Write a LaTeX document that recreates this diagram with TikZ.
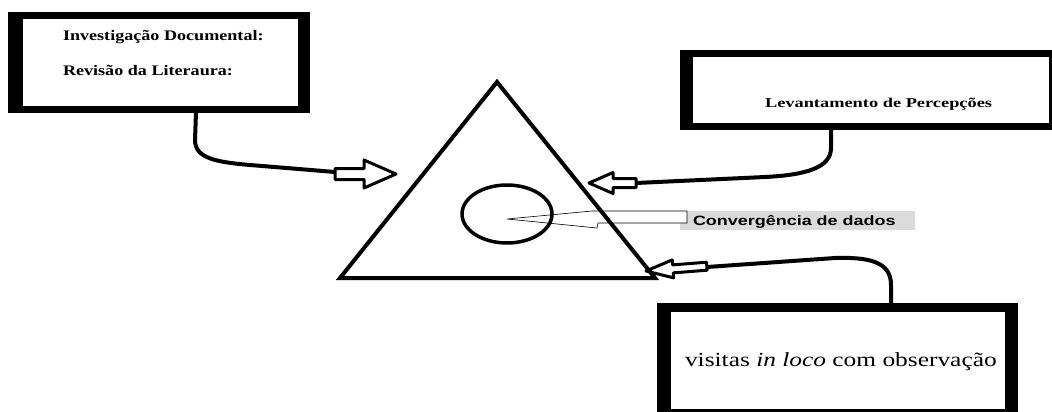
\documentclass[tikz,border=0pt]{standalone}
\usepackage{fontspec}
\setmainfont{Liberation Serif}
\setsansfont{Liberation Sans}
\usepackage{graphicx}
\begin{document}
\tikzset{
  boxouter/.style={fill=black, draw=none, inner sep=0pt, outer sep=0pt, anchor=north west},
  boxinner/.style={fill=white, draw=none, inner sep=0pt, outer sep=0pt, anchor=north west},
  conn/.style={line width=4pt, line cap=round, line join=round},
  barrow/.style={draw=black, fill=white, line width=3pt, line join=round},
  lbl/.style={inner sep=0pt, outer sep=0pt, anchor=base west},
}
\begin{tikzpicture}[x=1pt,y=-1pt]
\path[use as bounding box] (0,0) rectangle (1052,412);
\clip (0,0) rectangle (1052,412);
\fill[white] (0,0) rectangle (1052,412);

% boxes
\node[boxouter, minimum width=302pt, minimum height=101pt] (b1) at (8,12) {};
\node[boxinner, minimum width=275pt, minimum height=87pt] (b1i) at (23,19) {};
\node[boxouter, minimum width=390pt, minimum height=80pt] (b2) at (680,50) {};
\node[boxinner, minimum width=356pt, minimum height=66pt] (b2i) at (693,57) {};
\node[boxouter, minimum width=361pt, minimum height=127pt] (b3) at (657,303) {};
\node[boxinner, minimum width=334pt, minimum height=97pt] (b3i) at (671,312) {};

% connector end points
\coordinate (c1s) at (196,112);
\coordinate (a1tail) at (335,172);
\coordinate (c2s) at (831,129);
\coordinate (a2tail) at (636,183);
\coordinate (c3s) at (891,304);
\coordinate (a3tail) at (707,267);

% connectors
\draw[conn] (c1s) -- (195,140) .. controls (195,158) and (215,162) .. (250,165) -- (a1tail);
\draw[conn] (c2s) -- (831,148) .. controls (831,168) and (805,175) .. (765,177) -- (a2tail);
\draw[conn] (c3s) -- (891,285) .. controls (891,262) and (870,257) .. (835,258) -- (a3tail);

% block arrows
\draw[barrow] (396,174) -- (364,160) -- (364,168.5) -- (335,168.5) -- (335,179.5) -- (364,179.5) -- (364,188) -- cycle;
\draw[barrow] (589,183) -- (613,172.5) -- (613,178.5) -- (636,178.5) -- (636,187.5) -- (613,187.5) -- (613,193.5) -- cycle;
\begin{scope}[shift={(646,271)}, rotate=184.5]
\draw[barrow] (0,0) -- (-27,-9) -- (-27,-4) -- (-61,-4) -- (-61,4) -- (-27,4) -- (-27,9) -- cycle;
\end{scope}

% data convergence label and callout
\node[fill=black!14, inner sep=0pt, outer sep=0pt, anchor=north west, minimum width=235pt, minimum height=19pt] (gl) at (680,211) {};
\draw[line width=0.6pt, fill=white] (507,219) -- (592,211) -- (687,211) -- (687,223) -- (598,223) -- (597,228) -- cycle;

% circle and triangle
\draw[line width=3.5pt] (507,214) ellipse [x radius=45, y radius=29];
\draw[line width=4pt, line join=miter] (497,82) -- (340,278) -- (655,278) -- cycle;

% texts
\node[lbl] (t1) at (63,41) {\scalebox{1.24}[1]{\fontsize{14.6}{17}\selectfont\bfseries Investigação Documental:}};
\node[lbl] (t2) at (63,76) {\scalebox{1.24}[1]{\fontsize{14.6}{17}\selectfont\bfseries Revisão da Literaura:}};
\node[lbl] (t3) at (765,107) {\scalebox{1.36}[1]{\fontsize{13.5}{16}\selectfont\bfseries Levantamento de Percepções}};
\node[lbl] (t4) at (685,366) {\scalebox{1.27}[1]{\fontsize{20}{23}\selectfont visitas \textit{in loco} com observação}};
\node[lbl] (t5) at (693,225.5) {\scalebox{1.33}[1]{\fontsize{13.5}{16}\selectfont\sffamily\bfseries Convergência de dados}};
\end{tikzpicture}
\end{document}
